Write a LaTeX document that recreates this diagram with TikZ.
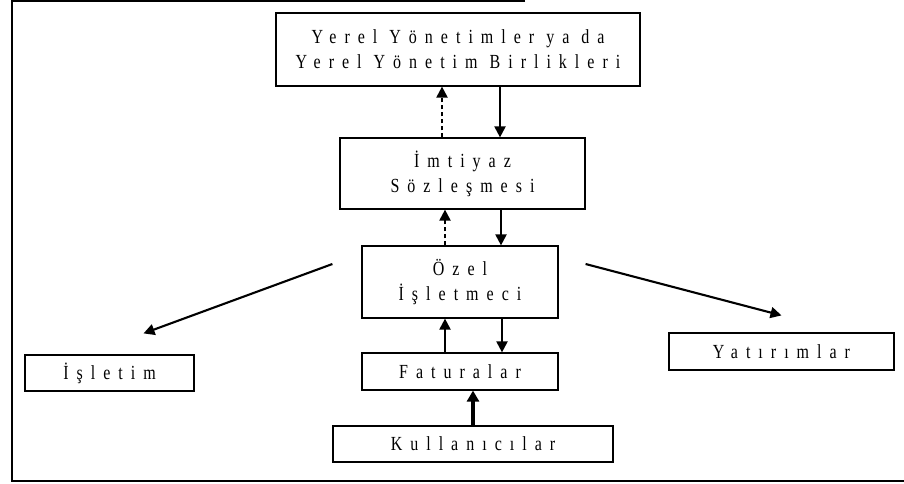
\documentclass[tikz,border=0pt]{standalone}
\usepackage{fontspec}
\setmainfont{Liberation Serif}[LetterSpace=40,FakeStretch=0.8]
\usetikzlibrary{arrows.meta}
\begin{document}
\begin{tikzpicture}[x=1pt,y=-1pt,
  box/.style={draw,line width=1.2pt,inner sep=0pt,align=center,
    font=\fontsize{20}{25}\selectfont},
  arr/.style={line width=2.1pt,-{Triangle[length=11pt,width=11pt]}},
  darr/.style={arr,dash pattern=on 4pt off 3pt},
  thickarr/.style={line width=3.2pt,-{Triangle[length=11pt,width=12pt]}},
  frame/.style={line width=1.3pt}]
\useasboundingbox (0,0) rectangle (904,483);
\draw[frame] (525,1) -- (12,1) -- (12,481) -- (904,481);
\node[box,minimum width=364pt,minimum height=73pt] (top) at (458,49.5) {Yerel Yönetimler ya da\\Yerel Yönetim Birlikleri};
\node[box,minimum width=245pt,minimum height=71pt] (imt) at (462.5,173.5) {İmtiyaz\\Sözleşmesi};
\node[box,minimum width=196pt,minimum height=72pt] (ozel) at (460,282) {Özel\\İşletmeci};
\node[box,minimum width=196pt,minimum height=37pt] (fat) at (460,371.5) {Faturalar};
\node[box,minimum width=280pt,minimum height=36pt] (kul) at (473,444) {Kullanıcılar};
\node[box,minimum width=169pt,minimum height=36pt] (isl) at (109.5,373) {İşletim};
\node[box,minimum width=225pt,minimum height=37pt] (yat) at (781.5,351.5) {Yatırımlar};
% anchor points for the vertical connectors
\coordinate (a1) at ([xshift=-16pt]top.south);
\coordinate (a2) at ([xshift=42pt]top.south);
\coordinate (b1) at ([xshift=-17.5pt]imt.south);
\coordinate (b2) at ([xshift=38.5pt]imt.south);
\coordinate (c1) at ([xshift=-15pt]ozel.south);
\coordinate (c2) at ([xshift=42pt]ozel.south);
% vertical connectors
\draw[darr] (imt.north -| a1) -- (a1);
\draw[arr] (a2) -- (imt.north -| a2);
\draw[darr] (ozel.north -| b1) -- (b1);
\draw[arr] (b2) -- (ozel.north -| b2);
\draw[arr] (fat.north -| c1) -- (c1);
\draw[arr] (c2) -- (fat.north -| c2);
\draw[thickarr] (kul.north) -- (fat.south -| kul.north);
% diagonal connectors
\coordinate (lstart) at ([xshift=-29pt,yshift=18pt]ozel.west);
\coordinate (rstart) at ([xshift=27pt,yshift=18pt]ozel.east);
\draw[arr] (lstart) -- ([xshift=34pt,yshift=21pt]isl.north);
\draw[arr] (rstart) -- ([xshift=0pt,yshift=17pt]yat.north);
\end{tikzpicture}
\end{document}
